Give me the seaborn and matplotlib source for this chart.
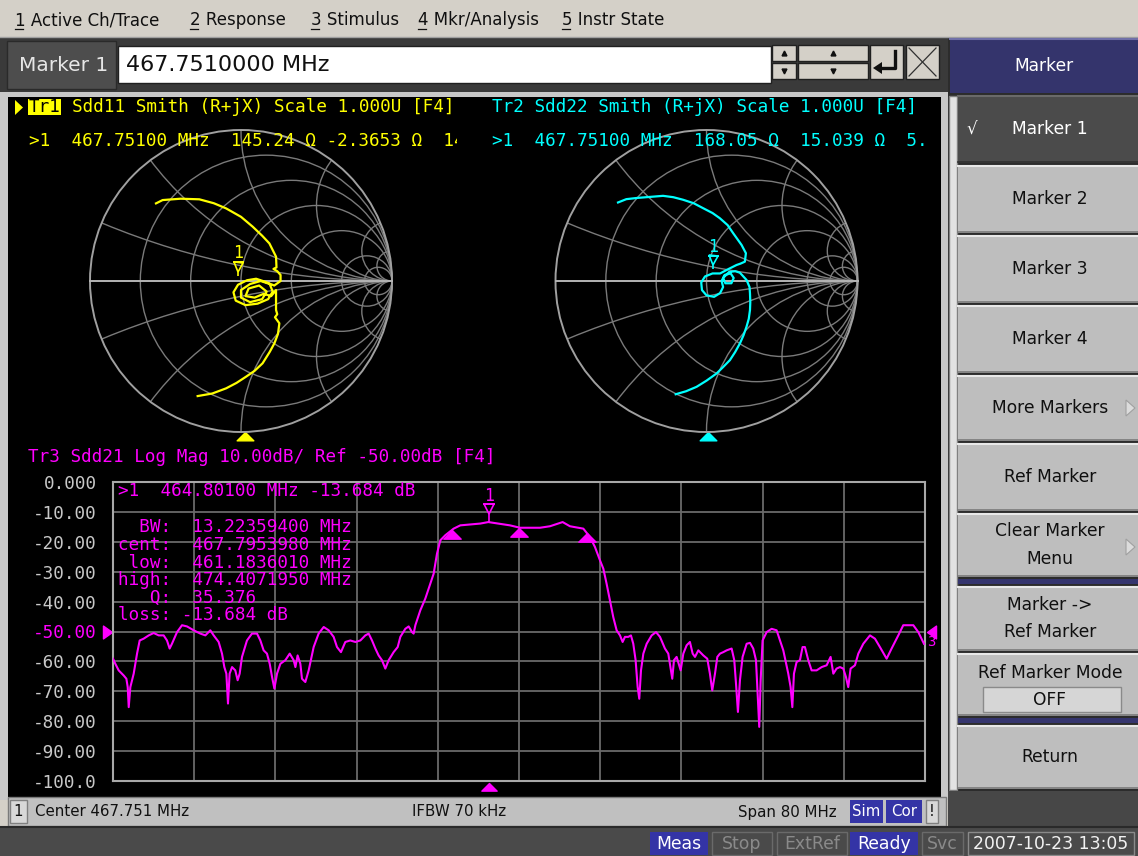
import numpy as np
import matplotlib
matplotlib.use("Agg")
import matplotlib.pyplot as plt
import matplotlib.transforms as mtransforms
from matplotlib.patches import Rectangle, Circle, Polygon
from matplotlib.path import Path
import seaborn as sns

W, H = 1138, 856

# ---- values ----
center_mhz = 467.751
span_mhz = 80.0
ref_db = -50.0
db_per_div = 10.0

# Tr3 Sdd21 log mag trace
sdd21_freq = [
    427.75, 427.98, 428.31, 428.80, 429.07, 429.20, 429.30, 429.46, 429.79, 430.12,
    430.38, 430.77, 431.27, 431.76, 432.25, 432.74, 433.07, 433.33, 433.56, 434.06,
    434.55, 435.04, 435.70, 436.36, 436.85, 437.34, 437.67, 438.16, 438.49, 438.72,
    438.92, 439.08, 439.24, 439.48, 439.80, 440.03, 440.23, 440.46, 440.95, 441.44,
    441.94, 442.27, 442.59, 442.92, 443.19, 443.42, 443.65, 443.91, 444.24, 444.73,
    445.16, 445.55, 445.72, 445.94, 446.21, 446.37, 446.70, 447.03, 447.52, 448.01,
    448.51, 449.00, 449.49, 449.82, 450.21, 450.64, 451.13, 451.63, 452.12, 452.61,
    452.94, 453.27, 453.60, 453.92, 454.25, 454.58, 454.91, 455.40, 455.80, 456.06,
    456.55, 456.88, 457.21, 457.37, 457.54, 458.03, 458.52, 459.02, 459.34, 459.67,
    460.00, 460.49, 461.31, 461.97, 463.94, 464.73, 465.71, 466.86, 467.85, 469.82,
    470.80, 471.62, 472.05, 472.77, 474.09, 474.74, 475.23, 475.73, 476.06, 476.38,
    476.71, 477.04, 477.37, 477.70, 477.96, 478.19, 478.52, 478.78, 479.01, 479.24,
    479.44, 479.60, 479.77, 480.00, 480.33, 480.82, 481.25, 481.64, 482.13, 482.46,
    482.72, 482.85, 483.02, 483.28, 483.68, 483.94, 484.27, 484.59, 484.86, 485.09,
    485.42, 485.91, 486.30, 486.56, 486.79, 487.06, 487.29, 487.55, 487.88, 488.21,
    488.70, 488.96, 489.13, 489.32, 489.52, 489.78, 490.18, 490.51, 490.83, 491.10,
    491.26, 491.42, 491.56, 491.75, 492.15, 492.64, 493.13, 493.46, 493.79, 494.28,
    494.51, 494.68, 494.84, 495.10, 495.43, 495.69, 495.92, 496.25, 496.58, 497.07,
    497.57, 498.06, 498.45, 498.72, 499.04, 499.37, 499.70, 499.96, 500.19, 500.42,
    500.85, 501.18, 501.67, 502.33, 502.82, 503.31, 503.97, 504.46, 505.12, 505.61,
    506.60, 507.09, 507.65,
]
sdd21_db = [
    -59.1, -60.8, -63.0, -64.7, -65.8, -68.6, -75.3, -68.6, -64.1, -57.4,
    -53.0, -52.4, -51.3, -50.5, -51.3, -51.3, -53.0, -55.7, -54.1, -50.2,
    -47.9, -48.3, -49.6, -50.7, -51.3, -49.6, -51.3, -53.5, -57.4, -61.9,
    -64.1, -74.1, -64.1, -61.9, -63.0, -66.3, -64.1, -58.5, -53.0, -50.7,
    -50.7, -53.0, -56.3, -57.4, -60.8, -65.2, -69.1, -64.1, -60.8, -59.6,
    -57.4, -59.6, -61.9, -58.0, -60.8, -65.8, -66.9, -63.0, -55.2, -50.7,
    -48.5, -49.6, -51.8, -55.2, -56.9, -53.5, -53.0, -53.5, -53.0, -51.3,
    -50.7, -53.0, -55.7, -58.0, -59.6, -62.4, -59.6, -56.9, -55.2, -51.8,
    -49.1, -48.3, -50.2, -50.7, -47.9, -42.9, -39.0, -34.0, -30.7, -24.0,
    -19.5, -17.8, -15.6, -14.5, -13.9, -13.4, -13.9, -14.5, -15.3, -15.3,
    -14.8, -13.9, -13.4, -14.8, -15.6, -18.4, -21.7, -26.2, -29.0, -34.0,
    -39.6, -45.2, -49.6, -51.3, -53.5, -51.8, -51.8, -51.3, -54.1, -59.6,
    -68.6, -72.5, -63.0, -57.4, -54.1, -51.3, -50.2, -51.8, -55.7, -57.4,
    -63.0, -65.8, -59.6, -58.5, -63.0, -57.4, -54.6, -53.5, -57.4, -58.5,
    -56.3, -58.0, -59.1, -64.1, -69.7, -64.1, -58.5, -57.4, -56.9, -56.3,
    -55.7, -59.6, -67.4, -76.9, -66.3, -58.5, -54.1, -53.8, -55.7, -59.6,
    -70.8, -81.9, -66.3, -53.0, -50.2, -49.1, -49.6, -53.0, -56.3, -64.1,
    -68.6, -75.3, -64.1, -60.2, -59.6, -55.2, -55.2, -59.6, -63.0, -63.0,
    -61.9, -61.3, -58.5, -64.1, -62.4, -61.9, -62.4, -65.2, -68.6, -62.4,
    -61.3, -57.4, -54.1, -51.3, -52.4, -55.2, -59.1, -55.7, -51.3, -47.9,
    -47.9, -50.2, -54.1,
]

mkr1_freq = 464.80100
mkr1_db = -13.684
bw_mhz = 13.22359400
bw_freqs = [461.1836010, 467.7953980, 474.4071950]   # low, cent, high
bw_q = 35.376

# Tr1 Sdd11 / Tr2 Sdd22 smith traces (reflection coefficient)
sdd11_re = [-0.563, -0.519, -0.400, -0.276, -0.180, -0.099, 0.000, 0.077, 0.140, 0.188,
            0.232, 0.235, 0.215, 0.240, 0.262, 0.262,
            0.220, 0.160, 0.100, 0.040, -0.020, -0.050, -0.035, 0.030, 0.110, 0.180,
            0.210, 0.190, 0.130, 0.060, 0.000, 0.000, 0.060, 0.140, 0.170, 0.120,
            0.050, 0.030, 0.090, 0.150, 0.200, 0.232,
            0.232, 0.240, 0.225, 0.254, 0.245, 0.221, 0.190, 0.143, 0.090, 0.033,
            -0.030, -0.099, -0.190, -0.287]
sdd11_im = [0.514, 0.536, 0.545, 0.541, 0.515, 0.481, 0.425, 0.360, 0.300, 0.249,
            0.161, 0.090, 0.080, 0.065, 0.040, 0.000,
            -0.030, -0.005, 0.015, 0.005, -0.025, -0.075, -0.130, -0.160, -0.150, -0.120,
            -0.070, -0.020, 0.000, -0.020, -0.060, -0.110, -0.140, -0.120, -0.070, -0.030,
            -0.050, -0.100, -0.110, -0.085, -0.100, -0.060,
            -0.192, -0.220, -0.240, -0.280, -0.350, -0.413, -0.470, -0.545, -0.595, -0.634,
            -0.675, -0.711, -0.745, -0.762]
sdd22_re = [-0.586, -0.531, -0.460, -0.398, -0.288, -0.220, -0.155, -0.085, -0.022, 0.040,
            0.088, 0.140, 0.177, 0.232, 0.261, 0.254, 0.225, 0.199, 0.133, 0.090,
            0.040, -0.010, -0.035, -0.030, 0.000, 0.050, 0.090, 0.110, 0.100, 0.120,
            0.160, 0.180, 0.165, 0.125, 0.110, 0.150, 0.190, 0.221, 0.265, 0.285,
            0.288, 0.290, 0.288, 0.280, 0.265, 0.245, 0.221, 0.190, 0.155, 0.110,
            0.066, 0.000, -0.066, -0.135, -0.204]
sdd22_im = [0.520, 0.542, 0.550, 0.555, 0.564, 0.555, 0.538, 0.515, 0.482, 0.450,
            0.416, 0.370, 0.316, 0.239, 0.184, 0.128, 0.115, 0.106, 0.073, 0.050,
            0.050, 0.030, -0.010, -0.060, -0.095, -0.105, -0.080, -0.040, 0.000, 0.040,
            0.050, 0.020, -0.015, -0.015, 0.020, 0.060, 0.065, 0.055, 0.007, -0.040,
            -0.082, -0.140, -0.192, -0.250, -0.303, -0.360, -0.414, -0.470, -0.524, -0.570,
            -0.613, -0.660, -0.701, -0.730, -0.750]
sdd11_mkr = (-0.022, 0.030)
sdd22_mkr = (0.044, 0.075)
sdd11_mkr_rx = (145.24, -2.3653)
sdd22_mkr_rx = (168.05, 15.039)
smith_mkr_freq = 467.75100

r_circles = [0.2, 0.5, 1.0, 2.0, 5.0, 10.0]
x_arcs = [0.2, 0.5, 1.0, 2.0, 5.0, 10.0]

ytick_vals = [0, -10, -20, -30, -40, -50, -60, -70, -80, -90, -100]
ytick_text = ["0.000", "-10.00", "-20.00", "-30.00", "-40.00", "-50.00",
              "-60.00", "-70.00", "-80.00", "-90.00", "-100.0"]

menu_items = ["1 Active Ch/Trace", "2 Response", "3 Stimulus", "4 Mkr/Analysis", "5 Instr State"]
menu_x = [15, 190, 311, 418, 562]

YEL, CYN, MAG = "#ffff00", "#00ffff", "#ff00ff"
GRID = "#7a7a7a"
MONO = "DejaVu Sans Mono"
SANS = "DejaVu Sans"
BLUE = "#3434a6"

fig = plt.figure(figsize=(W / 100, H / 100), dpi=100)
fig.patch.set_facecolor("#d4d0c8")

bg = fig.add_axes([0, 0, 1, 1])
bg.set_xlim(0, W)
bg.set_ylim(H, 0)
bg.axis("off")


def px_axes(x0, y0, x1, y1):
    return fig.add_axes([x0 / W, 1 - y1 / H, (x1 - x0) / W, (y1 - y0) / H])


def rect(ax, x0, y0, x1, y1, fc, ec="none", lw=0, z=1):
    ax.add_patch(Rectangle((x0, y0), x1 - x0, y1 - y0, fc=fc, ec=ec, lw=lw, zorder=z))


def txt(ax, x, y, s, size, color, family=SANS, ha="left", **kw):
    return ax.text(x, y, s, fontsize=size, color=color, family=family,
                   ha=ha, va="center", **kw)


# ---------------- window chrome ----------------
rect(bg, 0, 0, W, 37, "#d4d0c8")
bg.plot([0, W], [37, 37], color="#a0a0a0", lw=1)
for s, x in zip(menu_items, menu_x):
    txt(bg, x, 20, s, 12, "#101010")
    bg.plot([x, x + 8], [29, 29], color="#101010", lw=0.9)

rect(bg, 0, 38, 948, 93, "#3a3a3a")
rect(bg, 7, 41, 116, 89, "#4d4d4d", ec="#2a2a2a", lw=1)
txt(bg, 19, 65, "Marker 1", 14.5, "#e6e6e6")
rect(bg, 118, 46, 771, 83, "white", ec="#202020", lw=1)
txt(bg, 126, 65, "467.7510000 MHz", 16, "#101010")
for x0, x1 in [(772, 796), (798, 868)]:
    rect(bg, x0, 45, x1, 61, "#d4d0c8", ec="#202020", lw=1)
    rect(bg, x0, 63, x1, 79, "#d4d0c8", ec="#202020", lw=1)
    bg.plot([(x0 + x1) / 2], [53], marker="^", ms=3.5, color="#101010")
    bg.plot([(x0 + x1) / 2], [71], marker="v", ms=3.5, color="#101010")
rect(bg, 870, 45, 903, 79, "#d4d0c8", ec="#202020", lw=1)
bg.plot([895, 895, 881], [51, 68, 68], color="#101010", lw=2.4)
bg.add_patch(Polygon([(873, 68), (882, 62), (882, 74)], closed=True, fc="#101010"))
rect(bg, 906, 45, 939, 79, "#d4d0c8", ec="#202020", lw=1)
bg.plot([909, 936], [48, 76], color="#303030", lw=0.9)
bg.plot([936, 909], [48, 76], color="#303030", lw=0.9)

rect(bg, 0, 92, 948, 97, "#c8c8c8")
rect(bg, 0, 92, 8, 800, "#c8c8c8")
rect(bg, 941, 92, 948, 800, "#c8c8c8")
rect(bg, 8, 97, 941, 797, "black")

# channel status bar
rect(bg, 8, 797, 946, 826, "#c0c0c0", ec="#7a7a7a", lw=1)
rect(bg, 10, 800, 27, 823, "#d8d8d8", ec="#808080", lw=1)
txt(bg, 18.5, 812, "1", 10.8, "#101010", ha="center")
txt(bg, 35, 812, "Center %.3f MHz" % center_mhz, 10.8, "#101010")
txt(bg, 412, 812, "IFBW 70 kHz", 10.8, "#101010")
txt(bg, 738, 812, "Span %d MHz" % span_mhz, 10.8, "#101010")
for x0, x1, s in [(850, 883, "Sim"), (886, 922, "Cor")]:
    rect(bg, x0, 800, x1, 823, BLUE)
    txt(bg, (x0 + x1) / 2, 812, s, 10.8, "white", ha="center")
rect(bg, 926, 800, 938, 823, "#d8d8d8", ec="#808080", lw=1)
txt(bg, 932, 812, "!", 10.8, "#101010", ha="center")

# right soft key panel
rect(bg, 948, 38, W, 826, "#2c2c2c")
rect(bg, 950, 38, W, 93, "#34346c")
bg.plot([950, W], [39, 39], color="#7070a8", lw=1.5)
txt(bg, 1044, 66, "Marker", 12.3, "white", ha="center")
rect(bg, 949, 96, 957, 790, "#e2e2e2", ec="#808080", lw=1)

softkeys = [("Marker 1", 95, 163), ("Marker 2", 165, 233), ("Marker 3", 235, 303),
            ("Marker 4", 305, 373), ("More Markers", 375, 441), ("Ref Marker", 443, 511),
            ("Clear Marker|Menu", 513, 577), ("Marker ->|Ref Marker", 586, 651),
            ("Ref Marker Mode", 653, 716), ("Return", 725, 789)]
for i, (label, y0, y1) in enumerate(softkeys):
    dark = i == 0
    rect(bg, 958, y0, W, y1, "#4b4b4b" if dark else "#bebebe")
    bg.plot([958, W], [y0 + 1, y0 + 1], color="#6a6a6a" if dark else "#e8e8e8", lw=1.5)
    bg.plot([958, W], [y1 - 1, y1 - 1], color="#303030" if dark else "#7a7a7a", lw=1.2)
    col = "white" if dark else "#101010"
    parts = label.split("|")
    if label == "Ref Marker Mode":
        txt(bg, 1050, 673, label, 12.3, col, ha="center")
        rect(bg, 983, 687, 1121, 712, "#d6d6d6", ec="#8a8a8a", lw=1)
        txt(bg, 1050, 700, "OFF", 12.3, col, ha="center")
    elif len(parts) == 2:
        ym = (y0 + y1) / 2
        txt(bg, 1050, ym - 13.5, parts[0], 12.3, col, ha="center")
        txt(bg, 1050, ym + 13.5, parts[1], 12.3, col, ha="center")
    else:
        txt(bg, 1050, (y0 + y1) / 2, label, 12.3, col, ha="center")
txt(bg, 972, 130, "\u221a", 12, "white", ha="center")
for ya in (408, 547):
    bg.add_patch(Polygon([(1126, ya - 8), (1126, ya + 8), (1135, ya)], closed=True,
                         fc="#dcdcdc", ec="#a0a0a0", lw=0.8))
for ys in (579, 718):
    rect(bg, 958, ys, W, ys + 5, "#35356e")
rect(bg, 948, 791, W, 826, "#474747")

# bottom instrument status bar
rect(bg, 0, 826, W, H, "#4a4a4a")
bg.plot([0, W], [827, 827], color="#2a2a2a", lw=1.5)
status = [(650, 708, "Meas", True), (712, 772, "Stop", False), (777, 847, "ExtRef", False),
          (850, 918, "Ready", True), (922, 963, "Svc", False)]
for x0, x1, s, on in status:
    if on:
        rect(bg, x0, 832, x1, 855, BLUE)
    else:
        rect(bg, x0, 832, x1, 855, "#4a4a4a", ec="#6a6a6a", lw=1)
    txt(bg, (x0 + x1) / 2, 844, s, 12.4, "white" if on else "#8a8a8a", ha="center")
rect(bg, 968, 832, 1134, 855, "#4a4a4a", ec="#8a8a8a", lw=1)
txt(bg, 1051, 844, "2007-10-23 13:05", 12.4, "#f2f2f2", ha="center")


# ---------------- smith charts ----------------
R_PX = 151.0
HALF = 160.0
lim = HALF / R_PX


def smith(cx, cy, re, im, color):
    ax = px_axes(cx - HALF, cy - HALF, cx + HALF, cy + HALF)
    ax.set_facecolor("none")
    clip = Circle((0, 0), 1, transform=ax.transData)
    for r in r_circles:
        ax.add_patch(Circle((r / (1 + r), 0), 1 / (1 + r), fill=False, ec=GRID, lw=1))
    for x in x_arcs:
        for sgn in (1, -1):
            c = Circle((1, sgn / x), 1 / x, fill=False, ec=GRID, lw=1)
            ax.add_patch(c)
            c.set_clip_path(clip)
    ax.add_patch(Circle((0, 0), 1, fill=False, ec="#a0a0a0", lw=1.4))
    ax.plot([-1, 1], [0, 0], color="#b4b4b4", lw=1.4)
    sns.lineplot(x=re, y=im, sort=False, estimator=None, color=color, lw=1.6, ax=ax)
    ax.set_xlim(-lim, lim)
    ax.set_ylim(-lim, lim)
    ax.set_aspect("equal")
    ax.axis("off")
    return ax


def marker_glyph(ax, x, y, color, stem, tri_c, tri_s, bar_dy, bar_w, lab_dy):
    def tr(dy):
        return mtransforms.offset_copy(ax.transData, fig=fig, x=0, y=dy, units="dots")
    ax.plot([x], [y], marker="|", ms=stem * 0.72, mew=1.2, color=color,
            transform=tr(stem / 2), clip_on=False, zorder=6)
    ax.plot([x], [y], marker="v", ms=tri_s * 0.72, mfc="none", mec=color, mew=1.2,
            transform=tr(tri_c), clip_on=False, zorder=6)
    ax.plot([x], [y], marker="_", ms=bar_w * 0.72, mew=1.4, color=color,
            transform=tr(bar_dy), clip_on=False, zorder=6)
    ax.text(x, y, "1", transform=tr(lab_dy), ha="center", va="center", color=color,
            family=MONO, fontsize=12, clip_on=False, zorder=6)


s1 = smith(241, 281, sdd11_re, sdd11_im, YEL)
s2 = smith(706.5, 281, sdd22_re, sdd22_im, CYN)
marker_glyph(s1, sdd11_mkr[0], sdd11_mkr[1], YEL, 5, 9.5, 9, 14, 11, 23)
marker_glyph(s2, sdd22_mkr[0], sdd22_mkr[1], CYN, 5, 9.5, 9, 14, 11, 23)

tri_up = Path([(-1, -1), (1, -1), (0, 0), (-1, -1)],
              [Path.MOVETO, Path.LINETO, Path.LINETO, Path.CLOSEPOLY])
tri_right = Path([(0, 0), (-1.4, 1), (-1.4, -1), (0, 0)],
                 [Path.MOVETO, Path.LINETO, Path.LINETO, Path.CLOSEPOLY])
tri_left = Path([(0, 0), (1.4, 1), (1.4, -1), (0, 0)],
                [Path.MOVETO, Path.LINETO, Path.LINETO, Path.CLOSEPOLY])

for col, xpx in [(YEL, 245), (CYN, 708)]:
    bg.plot([xpx], [432], marker=tri_up, ms=12, color=col, ls="none", zorder=5)

# ---------------- log mag ----------------
lm = px_axes(113, 482, 925, 781)
lm.set_facecolor("none")
sns.lineplot(x=sdd21_freq, y=sdd21_db, sort=False, estimator=None, color=MAG, lw=1.5,
             ax=lm, zorder=3)
f0, f1 = center_mhz - span_mhz / 2, center_mhz + span_mhz / 2
lm.set_xlim(f0, f1)
lm.set_ylim(ref_db - 5 * db_per_div, ref_db + 5 * db_per_div)
lm.set_xticks(np.linspace(f0, f1, 11))
lm.set_yticks(ytick_vals)
lm.set_yticklabels(ytick_text, family=MONO, fontsize=12.7)
lm.tick_params(length=0, pad=11.5, labelbottom=False, labelcolor="#c8c8c8")
for lab, v in zip(lm.get_yticklabels(), ytick_vals):
    if v == ref_db:
        lab.set_color(MAG)
lm.grid(True, color="#6a6a6a", lw=1.3)
lm.set_axisbelow(True)
for sp in lm.spines.values():
    sp.set_color("#a8a8a8")
    sp.set_linewidth(1.5)
lm.set_xlabel("")
lm.set_ylabel("")

bw_db = np.interp(bw_freqs, sdd21_freq, sdd21_db)
lm.plot(bw_freqs, bw_db, ls="none", marker=tri_up, ms=12.5, color=MAG, zorder=5, clip_on=False)
marker_glyph(lm, mkr1_freq, mkr1_db, MAG, 9, 14, 10, 19, 12, 27)

bottom_tr = mtransforms.offset_copy(
    mtransforms.blended_transform_factory(lm.transData, lm.transAxes),
    fig=fig, x=0, y=-2, units="dots")
lm.plot([mkr1_freq], [0], transform=bottom_tr, marker=tri_up, ms=11, color=MAG,
        ls="none", clip_on=False)
ref_tr = mtransforms.blended_transform_factory(lm.transAxes, lm.transData)
lm.plot([0], [ref_db], transform=mtransforms.offset_copy(ref_tr, fig=fig, x=-1, y=0, units="dots"),
        marker=tri_right, ms=13, color=MAG, ls="none", clip_on=False)
lm.plot([1], [ref_db], transform=mtransforms.offset_copy(ref_tr, fig=fig, x=2, y=0, units="dots"),
        marker=tri_left, ms=13, color=MAG, ls="none", clip_on=False)
lm.text(1, ref_db, "3", transform=mtransforms.offset_copy(ref_tr, fig=fig, x=6, y=-11, units="dots"),
        ha="center", va="center", color=MAG, family=MONO, fontsize=10, clip_on=False)

# ---------------- overlay annotations ----------------
ov = fig.add_axes([0, 0, 1, 1])
ov.set_xlim(0, W)
ov.set_ylim(H, 0)
ov.axis("off")
ov.patch.set_visible(False)

FS = 12.7
ov.add_patch(Polygon([(15, 100), (15, 115), (23, 107.5)], closed=True, fc=YEL))
rect(ov, 28, 99, 61, 115, YEL)
txt(ov, 28.5, 107, "Tr1", FS, "black", family=MONO)
txt(ov, 72, 107, "Sdd11 Smith (R+jX) Scale 1.000U [F4]", FS, YEL, family=MONO)
t = txt(ov, 29, 141, ">1  %.5f MHz  %.2f \u03a9 %.4f \u03a9  14"
        % (smith_mkr_freq, sdd11_mkr_rx[0], sdd11_mkr_rx[1]), FS, YEL, family=MONO)
t.set_clip_on(True)
t.set_clip_box(mtransforms.Bbox.from_extents(8, H - 160, 457, H - 120))
txt(ov, 492, 107, "Tr2 Sdd22 Smith (R+jX) Scale 1.000U [F4]", FS, CYN, family=MONO)
txt(ov, 492, 141, ">1  %.5f MHz  %.2f \u03a9  %.3f \u03a9  5."
    % (smith_mkr_freq, sdd22_mkr_rx[0], sdd22_mkr_rx[1]), FS, CYN, family=MONO)

txt(ov, 28, 457, "Tr3 Sdd21 Log Mag %.2fdB/ Ref %.2fdB [F4]" % (db_per_div, ref_db),
    FS, MAG, family=MONO)
bw_lines = [
    ">1  %.5f MHz %.3f dB" % (mkr1_freq, mkr1_db),
    "  BW:  %.8f MHz" % bw_mhz,
    "cent:  %.7f MHz" % bw_freqs[1],
    " low:  %.7f MHz" % bw_freqs[0],
    "high:  %.7f MHz" % bw_freqs[2],
    "   Q:  %.3f" % bw_q,
    "loss: %.3f dB" % mkr1_db,
]
for s, y in zip(bw_lines, [491, 527, 545, 562.5, 580, 597.5, 615]):
    txt(ov, 118, y, s, FS, MAG, family=MONO)

fig.savefig("out.png", dpi=100, facecolor=fig.get_facecolor())
